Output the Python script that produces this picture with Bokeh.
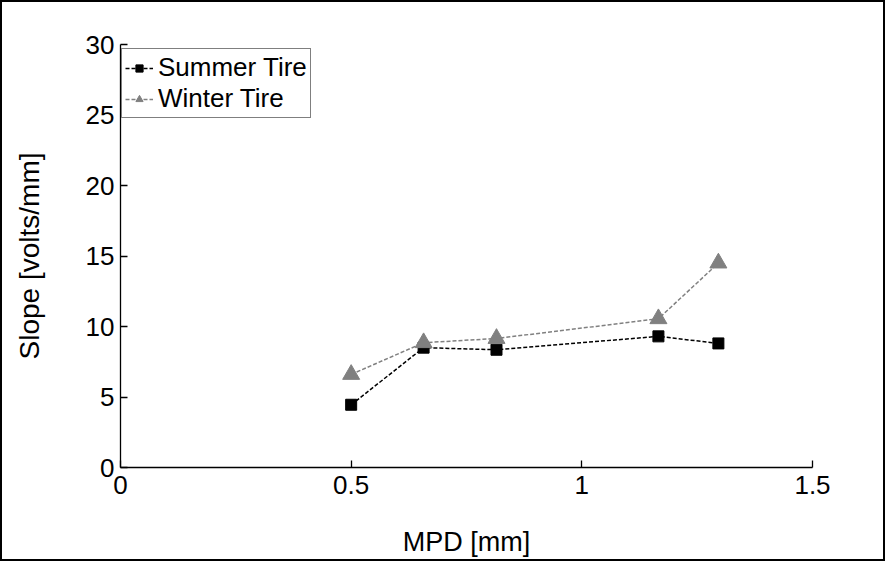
from bokeh.plotting import figure
from bokeh.models import Range1d, FixedTicker, Legend, LegendItem
from bokeh.embed import file_html
from bokeh.resources import INLINE

mpd = [0.5, 0.657, 0.815, 1.166, 1.296]
summer = [4.45, 8.5, 8.35, 9.3, 8.8]
winter = [6.6, 8.85, 9.15, 10.55, 14.5]
x_ticks = [0, 0.5, 1, 1.5]
y_ticks = [0, 5, 10, 15, 20, 25, 30]

FONT = "Liberation Sans"

p = figure(frame_width=692, frame_height=423, output_backend="svg", toolbar_location=None,
           x_range=Range1d(0, 1.5), y_range=Range1d(0, 30),
           min_border_left=118, min_border_top=42, min_border_right=71, min_border_bottom=92)
p.styles = {"border": "2px solid black"}
p.outline_line_color = None
p.xgrid.visible = False
p.ygrid.visible = False

for ax, ticks in ((p.xaxis[0], x_ticks), (p.yaxis[0], y_ticks)):
    ax.ticker = FixedTicker(ticks=ticks)
    ax.major_tick_in = 7
    ax.major_tick_out = 0
    ax.minor_tick_in = 0
    ax.minor_tick_out = 0
    ax.axis_line_width = 1.3
    ax.major_tick_line_width = 1.3
    ax.major_label_text_font = FONT
    ax.major_label_text_font_size = "26px"
    ax.major_label_text_color = "black"
    ax.axis_label_text_font = FONT
    ax.axis_label_text_font_style = "normal"
    ax.axis_label_text_color = "black"

p.xaxis.axis_label = "MPD [mm]"
p.yaxis.axis_label = "Slope [volts/mm]"
p.xaxis.axis_label_text_font_size = "27px"
p.yaxis.axis_label_text_font_size = "28px"
p.xaxis.major_label_standoff = 8
p.yaxis.major_label_standoff = 6
p.xaxis.axis_label_standoff = 30
p.yaxis.axis_label_standoff = 38

l1 = p.line(mpd, summer, line_color="black", line_width=1.5, line_dash="4 2")
s1 = p.scatter(mpd, summer, marker="square", size=11, fill_color="black", line_color="black")
l2 = p.line(mpd, winter, line_color="#808080", line_width=1.5, line_dash="4 2")
s2 = p.scatter(mpd, winter, marker="triangle", size=17, fill_color="#808080", line_color="#808080")

legend = Legend(items=[LegendItem(label="Summer Tire", renderers=[l1, s1]),
                       LegendItem(label="Winter Tire", renderers=[l2, s2])],
                location=(1, 349))
legend.label_text_font = FONT
legend.label_text_font_size = "26px"
legend.label_text_color = "black"
legend.border_line_color = "black"
legend.border_line_width = 1
legend.padding = 3
legend.spacing = 0
legend.margin = 0
legend.label_height = 29
legend.glyph_height = 18
legend.glyph_width = 28
legend.label_standoff = 5
legend.background_fill_alpha = 1
p.add_layout(legend, "center")

open("out.html", "w").write(file_html(p, INLINE))
